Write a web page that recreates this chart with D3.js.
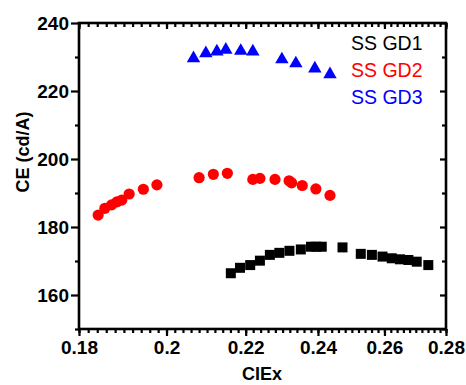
<!DOCTYPE html>
<html><head><meta charset="utf-8">
<script src="https://cdn.jsdelivr.net/npm/d3@7/dist/d3.min.js"></script>
<style>
html,body{margin:0;padding:0;background:#fff;}
svg{display:block;font-family:"Liberation Sans",Arial,sans-serif;}
</style></head>
<body>
<svg id="c" width="466" height="385"></svg>
<script>
const seriesNames = ["SS GD1", "SS GD2", "SS GD3"];
const seriesColors = ["#000000", "#ff0000", "#0000ff"];

const gd1X = [0.2161, 0.2185, 0.2212, 0.2238, 0.2265, 0.2291, 0.2319, 0.2351, 0.2380, 0.2395, 0.2411, 0.2472, 0.2527, 0.2561, 0.2594, 0.2623, 0.2649, 0.2676, 0.2703, 0.2741];
const gd1Y = [166.4, 168.0, 168.8, 170.1, 171.8, 172.4, 173.0, 173.4, 174.2, 174.2, 174.2, 174.0, 172.1, 171.8, 171.3, 170.8, 170.5, 170.3, 169.8, 168.8];

const gd2X = [0.1842, 0.1857, 0.1872, 0.1884, 0.1895, 0.1912, 0.1945, 0.1977, 0.2080, 0.2116, 0.2152, 0.2219, 0.2238, 0.2279, 0.2318, 0.2325, 0.2355, 0.2394, 0.2435];
const gd2Y = [183.5, 185.5, 186.5, 187.4, 187.9, 189.7, 191.1, 192.4, 194.5, 195.5, 195.8, 194.0, 194.3, 194.0, 193.6, 193.0, 192.2, 191.2, 189.3];

const gd3X = [0.2066, 0.2097, 0.2125, 0.2148, 0.2187, 0.2219, 0.2298, 0.2337, 0.2391, 0.2435];
const gd3Y = [229.6, 231.1, 231.6, 232.1, 231.8, 231.6, 229.3, 228.1, 226.6, 224.9];

const xTicks = [0.18, 0.2, 0.22, 0.24, 0.26, 0.28];
const xTickLabels = ["0.18", "0.2", "0.22", "0.24", "0.26", "0.28"];
const xMinor = d3.range(0, 51).map(i => +(0.18 + i * 0.002).toFixed(3));
const yTicks = [160, 180, 200, 220, 240];
const yMinor = [150, 170, 190, 210, 230];

const L = 79, R = 446, T = 23, B = 329;
const svg = d3.select("#c");
const x = d3.scaleLog().domain([0.18, 0.28]).range([L, R]);
const y = d3.scaleLinear().domain([150, 240]).range([B, T]);

const fmtX = v => xTickLabels[xTicks.indexOf(v)];

function styleAxis(g) {
  g.select(".domain").remove();
  g.selectAll("line").attr("stroke", "#000").attr("stroke-width", 2.2);
  g.selectAll("text").attr("fill", "#000").attr("font-weight", "bold").attr("font-size", 18);
}

// minor ticks
svg.append("g").attr("transform", `translate(0,${B})`)
  .call(d3.axisBottom(x).tickValues(xMinor).tickSize(4).tickFormat(""))
  .call(styleAxis);
svg.append("g").attr("transform", `translate(0,${T})`)
  .call(d3.axisBottom(x).tickValues(xMinor).tickSize(4).tickFormat(""))
  .call(styleAxis);
svg.append("g").attr("transform", `translate(${L},0)`)
  .call(d3.axisLeft(y).tickValues(yMinor).tickSize(4).tickFormat(""))
  .call(styleAxis);
svg.append("g").attr("transform", `translate(${R},0)`)
  .call(d3.axisLeft(y).tickValues(yMinor).tickSize(4).tickFormat(""))
  .call(styleAxis);

// major ticks
svg.append("g").attr("transform", `translate(0,${B})`)
  .call(d3.axisBottom(x).tickValues(xTicks).tickSize(7).tickPadding(5).tickFormat(fmtX))
  .call(styleAxis)
  .call(g => g.selectAll("text").attr("font-size", 19));
svg.append("g").attr("transform", `translate(0,${T})`)
  .call(d3.axisBottom(x).tickValues(xTicks).tickSize(6).tickFormat(""))
  .call(styleAxis);
svg.append("g").attr("transform", `translate(${L},0)`)
  .call(d3.axisLeft(y).tickValues(yTicks).tickSize(8).tickPadding(2).tickFormat(d3.format("d")))
  .call(styleAxis)
  .call(g => g.selectAll("text").attr("font-size", 19));
svg.append("g").attr("transform", `translate(${R},0)`)
  .call(d3.axisLeft(y).tickValues(yTicks).tickSize(6).tickFormat(""))
  .call(styleAxis);

// frame
svg.append("rect").attr("x", L).attr("y", T).attr("width", R - L).attr("height", B - T)
  .attr("fill", "none").attr("stroke", "#000").attr("stroke-width", 2.6);

// data
const sq = 10;
svg.append("g").selectAll("rect").data(d3.zip(gd1X, gd1Y)).join("rect")
  .attr("x", d => x(d[0]) - sq / 2).attr("y", d => y(d[1]) - sq / 2)
  .attr("width", sq).attr("height", sq).attr("fill", seriesColors[0]);

svg.append("g").selectAll("circle").data(d3.zip(gd2X, gd2Y)).join("circle")
  .attr("cx", d => x(d[0])).attr("cy", d => y(d[1])).attr("r", 5.6)
  .attr("fill", seriesColors[1]);

const tri = d3.symbol().type(d3.symbolTriangle).size(78);
svg.append("g").selectAll("path").data(d3.zip(gd3X, gd3Y)).join("path")
  .attr("transform", d => `translate(${x(d[0])},${y(d[1])})`)
  .attr("d", tri).attr("fill", seriesColors[2]);

// legend
svg.append("g").selectAll("text").data(seriesNames).join("text")
  .attr("x", 351).attr("y", (d, i) => 50 + i * 27)
  .attr("font-size", 19.5).attr("fill", (d, i) => seriesColors[i])
  .text(d => d);

// axis titles
svg.append("text").attr("x", 262).attr("y", 380).attr("text-anchor", "middle")
  .attr("font-size", 18).attr("font-weight", "bold").text("CIEx");
svg.append("text").attr("transform", "translate(29,152) rotate(-90)").attr("text-anchor", "middle")
  .attr("font-size", 18).attr("font-weight", "bold").text("CE (cd/A)");
</script>
</body></html>
